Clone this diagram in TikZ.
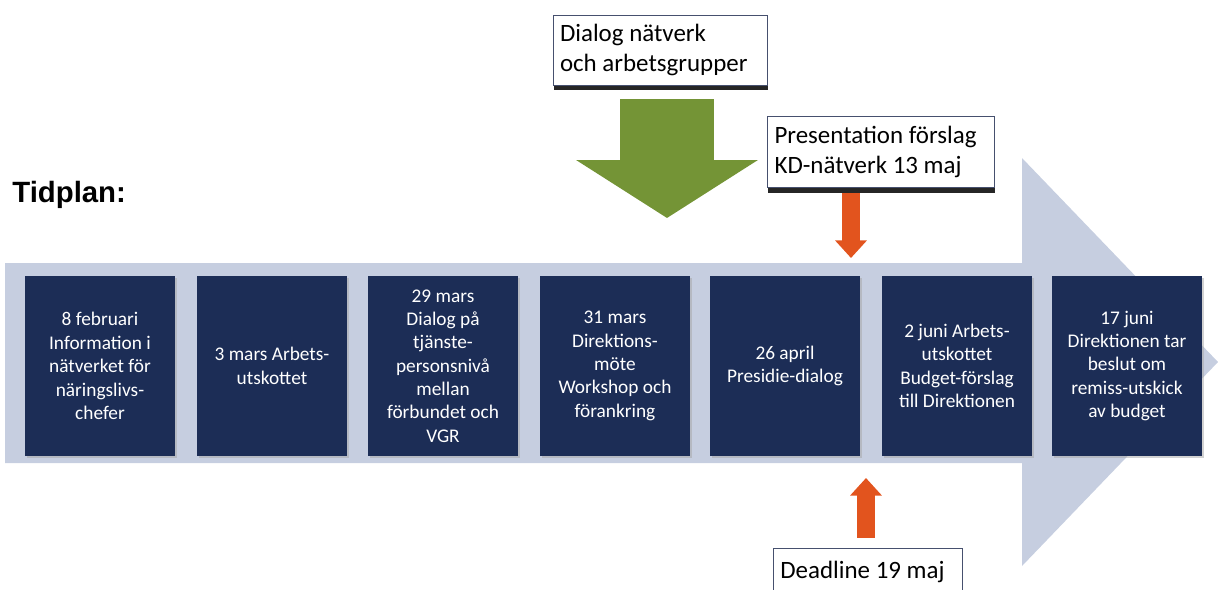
\documentclass[tikz,border=0pt]{standalone}
\usepackage{fontspec}
\setmainfont{Carlito}
\newfontfamily\headfont{Liberation Sans}
\usetikzlibrary{arrows.meta,shadows}

\definecolor{navy}{RGB}{28,45,86}
\definecolor{timeline}{RGB}{198,206,224}
\definecolor{olive}{RGB}{116,148,54}
\definecolor{rust}{RGB}{226,84,30}
\definecolor{boxline}{RGB}{70,80,110}

\tikzset{
  datebox/.style={fill=navy, text=white, minimum width=3cm, minimum height=3.6cm,
    text width=2.8cm, align=flush center, inner sep=0pt, font=\fontsize{11}{13.3}\selectfont,
    drop shadow={shadow xshift=1pt, shadow yshift=-1pt, fill=black!35}},
  notebox/.style={draw=boxline, fill=white, align=flush left, inner xsep=4pt,
    font=\fontsize{14.2}{17}\selectfont},
  shadowed/.style={drop shadow={shadow xshift=0.5pt, shadow yshift=-3pt, fill=black!85, opacity=1}},
  fatarrow/.style={rust, line width=10pt, -{Triangle[width=17.5pt,length=10pt]}},
}

\begin{document}
\begin{tikzpicture}[x=0.02cm, y=-0.02cm]
\useasboundingbox (0,0) rectangle (1218,589);

% timeline
\fill[timeline] (5,263) -- (1022,263) -- (1022,158) -- (1218,362) -- (1022,566) -- (1022,463) -- (5,463) -- cycle;

\node[anchor=base west, inner xsep=0pt, font=\headfont\bfseries\fontsize{16.7}{20}\selectfont] (title) at (12,202) {Tidplan:};

% dates
\node[datebox] (feb8) at (100,366) {8 februari\\Information i\\nätverket för\\näringslivs-\\chefer};
\node[datebox] (mar3) at (272,366) {3 mars Arbets-\\utskottet};
\node[datebox] (mar29) at (443,366) {29 mars\\Dialog på\\tjänste-\\personsnivå\\mellan\\förbundet och\\VGR};
\node[datebox] (mar31) at (615,366) {31 mars\\Direktions-\\möte\\Workshop och\\förankring};
\node[datebox] (apr26) at (785,366) {26 april\\Presidie-dialog};
\node[datebox] (jun2) at (957,366) {2 juni Arbets-\\utskottet\\Budget-förslag\\till Direktionen};
\node[datebox] (jun17) at (1127,366) {17 juni\\Direktionen tar\\beslut om\\remiss-utskick\\av budget};

% notes
\node[notebox, shadowed, text width=4cm, minimum height=1.4cm] (dialog) at (660,50) {Dialog nätverk\\och arbetsgrupper};
\node[notebox, shadowed, text width=4.26cm, minimum height=1.42cm] (pres) at (881,152) {Presentation förslag\\KD-nätverk 13 maj};
\node[notebox, anchor=north west, text width=3.5cm, minimum height=0.95cm] (dead) at (773,548) {Deadline 19 maj};

\coordinate (gtip) at (667,218);
\coordinate (ptip) at (851,258);
\coordinate (dtip) at (866,478);
\draw[olive, line width=54pt, -{Triangle[width=102pt,length=33pt]}, shorten <=8pt] (dialog.south -| gtip) -- (gtip);
\draw[fatarrow, shorten <=3pt] (pres.south -| ptip) -- (ptip);
\draw[fatarrow, shorten <=5.7pt] (dead.north -| dtip) -- (dtip);
\end{tikzpicture}
\end{document}
